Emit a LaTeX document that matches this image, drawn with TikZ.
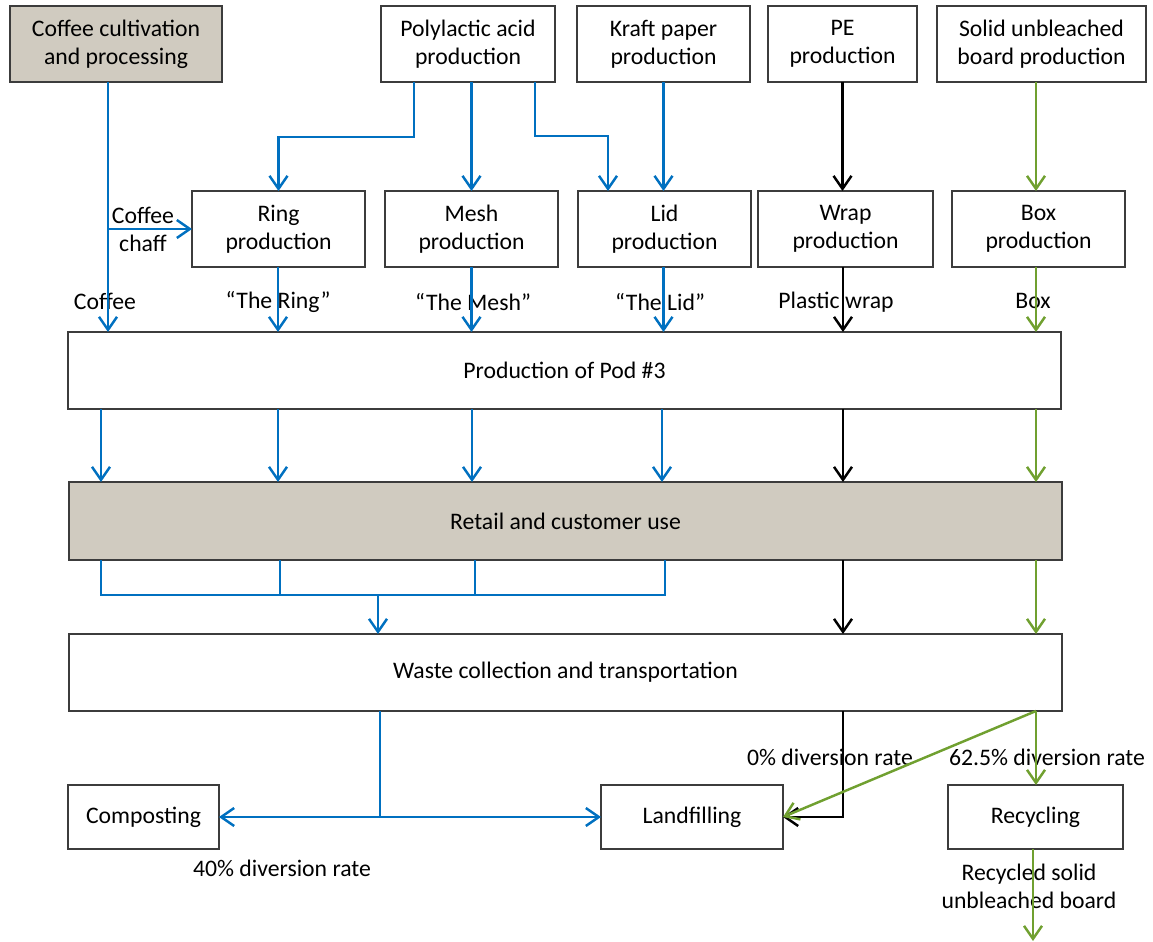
\documentclass[tikz,border=0pt]{standalone}
\usepackage{fontspec}
\setmainfont{Carlito}
\usetikzlibrary{arrows.meta}
\definecolor{flowblue}{RGB}{0,112,192}
\definecolor{flowgreen}{RGB}{112,160,48}
\definecolor{stagetan}{RGB}{208,203,192}
\definecolor{boxedge}{RGB}{60,60,60}

\tikzset{
  txt/.style={font=\fontsize{13.5}{15.9}\selectfont},
  box/.style={txt, draw=boxedge, line width=0.8pt, align=center,
              inner sep=2pt, outer sep=0pt},
  shaded/.style={fill=stagetan},
  lbl/.style={txt, inner sep=0pt, align=center},
  wire/.style={line width=1.4pt},
  flow/.style={wire, -{Straight Barb[length=2.6mm,width=3.6mm]}},
  bluewire/.style={wire, draw=flowblue},
  blueflow/.style={flow, draw=flowblue},
  blackflow/.style={flow, draw=black},
  greenflow/.style={flow, draw=flowgreen},
}

% box from corner (x1,y1) to corner (x2,y2), y measured downwards
\newcommand\procbox[7][]{%
  \node[box,#1,minimum width={(#5-#3)*0.02cm},minimum height={(#6-#4)*0.02cm}]
    (#2) at ({(#3+#5)/2},{(#4+#6)/2}) {#7};}

\begin{document}
\begin{tikzpicture}[x=0.02cm,y=-0.02cm]
\useasboundingbox (0,0) rectangle (1153,942);

% ---- supply chain boxes ----
\procbox[shaded]{coffee}{10}{6}{222}{82}{Coffee cultivation\\and processing}
\procbox{pla}{381}{6}{555}{82}{Polylactic acid\\production}
\procbox{kraft}{577}{6}{750}{82}{Kraft paper\\production}
\procbox{pe}{768}{6}{917}{82}{PE\\production}
\procbox{sub}{937}{6}{1146}{82}{Solid unbleached\\board production}

\procbox{ring}{192}{191}{365}{267}{Ring\\production}
\procbox{mesh}{385}{191}{558}{267}{Mesh\\production}
\procbox{lid}{578}{191}{751}{267}{Lid\\production}
\procbox{wrap}{758}{191}{933}{267}{Wrap\\production}
\procbox{boxp}{952}{191}{1125}{267}{Box\\production}

\procbox{pod}{68}{332}{1061}{409}{Production of Pod \#3}
\procbox[shaded]{retail}{69}{482}{1062}{560}{Retail and customer use}
\procbox{waste}{69}{634}{1062}{711}{Waste collection and transportation}

\procbox{comp}{68}{785}{219}{849}{Composting}
\procbox{land}{601}{785}{783}{849}{Landfilling}
\procbox{recyc}{948}{785}{1123}{849}{Recycling}

% ---- column positions of the connectors ----
\coordinate (cA) at (108,0);
\coordinate (cP1) at (414,0);
\coordinate (cP3) at (535,0);
\coordinate (cL2) at (608,0);
\coordinate (cW) at (843,0);
\coordinate (cBox) at (1036,0);
\coordinate (c101) at (101,0);
\coordinate (c278) at (278,0);
\coordinate (c472) at (472,0);
\coordinate (c662) at (662,0);
\coordinate (c280) at (280,0);
\coordinate (c475) at (475,0);
\coordinate (bracketR) at (665,595);
\coordinate (bracketM) at (378,595);
\coordinate (split) at (380,817);
\coordinate (outflow) at (1033,941);

% ---- flow labels ----
\node[lbl] (chaff) at (143,229) {Coffee\\chaff};
\node[lbl] (lcoffee) at (105,301) {Coffee};
\node[lbl] (lring) at (278,302) {“The Ring”};
\node[lbl] (lmesh) at (473,302) {“The Mesh”};
\node[lbl] (llid) at (660,302) {“The Lid”};
\node[lbl] (lwrap) at (836,302) {Plastic wrap};
\node[lbl] (lbox) at (1033,301) {Box};
\node[lbl] (l0) at (830,757) {0\% diversion rate};
\node[lbl] (l62) at (1047,757) {62.5\% diversion rate};
\node[lbl] (l40) at (282,868) {40\% diversion rate};
\node[lbl] (lrec) at (1029,886) {Recycled solid\\unbleached board};

% ---- upstream flows ----
\draw[blueflow] (coffee.south -| cA) -- (pod.north -| cA);
\draw[blueflow] (ring.west -| cA) -- (ring.west);
\draw[blueflow] (pla.south -| cP1) -- ++(0,55) -| (ring.north);
\draw[blueflow] (pla.south -| mesh.north) -- (mesh.north);
\draw[blueflow] (pla.south -| cP3) -- ++(0,54) -| (lid.north -| cL2);
\draw[blueflow] (kraft.south) -- (lid.north -| kraft.south);
\draw[blackflow] (pe.south) -- (wrap.north -| pe.south);
\draw[greenflow] (sub.south -| cBox) -- (boxp.north -| cBox);

% ---- components into the pod ----
\draw[blueflow] (ring.south -| c278) -- (pod.north -| c278);
\draw[blueflow] (mesh.south -| mesh.north) -- (pod.north -| mesh.north);
\draw[blueflow] (lid.south -| kraft.south) -- (pod.north -| kraft.south);
\draw[blackflow] (wrap.south -| cW) -- (pod.north -| cW);
\draw[greenflow] (boxp.south -| cBox) -- (pod.north -| cBox);

% ---- pod to retail ----
\draw[blueflow] (pod.south -| c101) -- (retail.north -| c101);
\draw[blueflow] (pod.south -| c278) -- (retail.north -| c278);
\draw[blueflow] (pod.south -| c472) -- (retail.north -| c472);
\draw[blueflow] (pod.south -| c662) -- (retail.north -| c662);
\draw[blackflow] (pod.south -| cW) -- (retail.north -| cW);
\draw[greenflow] (pod.south -| cBox) -- (retail.north -| cBox);

% ---- retail to waste collection ----
\draw[bluewire] (retail.south -| c101) |- (bracketR) -- (retail.south -| bracketR);
\draw[bluewire] (retail.south -| c280) -- (bracketR -| c280);
\draw[bluewire] (retail.south -| c475) -- (bracketR -| c475);
\draw[blueflow] (bracketM) -- (waste.north -| bracketM);
\draw[blackflow] (retail.south -| cW) -- (waste.north -| cW);
\draw[greenflow] (retail.south -| cBox) -- (waste.north -| cBox);

% ---- end of life ----
\draw[bluewire] (waste.south -| split) -- (split);
\draw[blueflow] (split) -- (comp.east);
\draw[blueflow] (split) -- (land.west);
\draw[blackflow] (waste.south -| cW) |- (land.east);
\draw[greenflow] (waste.south -| cBox) -- (land.east);
\draw[greenflow] (waste.south -| cBox) -- (recyc.north -| cBox);
\draw[greenflow] (recyc.south -| outflow) -- (outflow);
\end{tikzpicture}
\end{document}
